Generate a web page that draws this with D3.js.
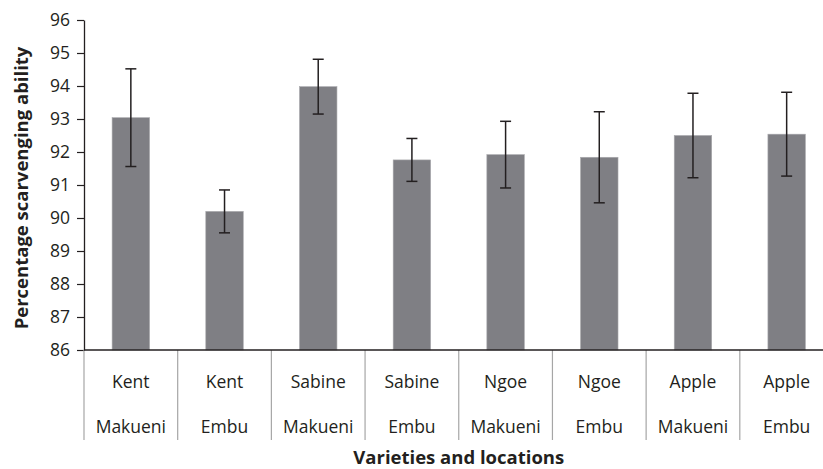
<!DOCTYPE html>
<html>
<head>
<meta charset="utf-8">
<script src="https://cdn.jsdelivr.net/npm/d3@7"></script>
<style>
  body { margin: 0; background: #fff; }
  svg { display: block; font-family: "Open Sans", sans-serif; }
</style>
</head>
<body>
<svg id="chart"></svg>
<script>
const varieties = ["Kent", "Kent", "Sabine", "Sabine", "Ngoe", "Ngoe", "Apple", "Apple"];
const locations = ["Makueni", "Embu", "Makueni", "Embu", "Makueni", "Embu", "Makueni", "Embu"];
const means = [93.04, 90.2, 93.98, 91.76, 91.92, 91.84, 92.5, 92.54];
const errors = [1.48, 0.65, 0.83, 0.65, 1.01, 1.38, 1.28, 1.27];
const yTicks = [86, 87, 88, 89, 90, 91, 92, 93, 94, 95, 96];

const width = 823, height = 469;
const mLeft = 84, mRight = 833.5, mTop = 20, mBottom = 350;
const ink = "#231f20";

const svg = d3.select("#chart")
    .attr("width", width)
    .attr("height", height);

const idx = d3.range(means.length);

const x = d3.scaleBand()
    .domain(idx)
    .range([mLeft, mRight])
    .paddingInner(0.6)
    .paddingOuter(0.3);

const y = d3.scaleLinear()
    .domain([86, 96])
    .range([mBottom, mTop]);

const step = x.step();

// bars
svg.append("g")
    .selectAll("rect")
    .data(idx)
    .join("rect")
    .attr("x", i => x(i))
    .attr("y", i => y(means[i]))
    .attr("width", x.bandwidth())
    .attr("height", i => y(86) - y(means[i]))
    .attr("fill", "#7f7f84")
    .attr("stroke", "#a9a9ad")
    .attr("stroke-width", 0.6);

// error bars
const eb = svg.append("g")
    .attr("stroke", ink)
    .attr("stroke-width", 1.5);

idx.forEach(i => {
    const cx = x(i) + x.bandwidth() / 2;
    const hi = y(means[i] + errors[i]);
    const lo = y(means[i] - errors[i]);
    eb.append("line").attr("x1", cx).attr("x2", cx).attr("y1", hi).attr("y2", lo);
    eb.append("line").attr("x1", cx - 5.5).attr("x2", cx + 5.5).attr("y1", hi).attr("y2", hi);
    eb.append("line").attr("x1", cx - 5.5).attr("x2", cx + 5.5).attr("y1", lo).attr("y2", lo);
});

// y axis
const yAxis = svg.append("g")
    .attr("transform", `translate(${mLeft},0)`)
    .call(d3.axisLeft(y).tickValues(yTicks).tickSize(7).tickPadding(7).tickSizeOuter(0));

yAxis.select(".domain").attr("stroke", ink).attr("stroke-width", 1.3);
yAxis.selectAll(".tick line").attr("stroke", ink).attr("stroke-width", 1.2);
yAxis.selectAll(".tick text")
    .attr("fill", ink)
    .style("font-size", "17.5px")
    .style("font-family", "'Open Sans', sans-serif");

// category separators
const seps = idx.map(i => x(i) - step * 0.3).concat([mRight]);
svg.append("g")
    .selectAll("line")
    .data(seps)
    .join("line")
    .attr("x1", d => d)
    .attr("x2", d => d)
    .attr("y1", mBottom)
    .attr("y2", 440)
    .attr("stroke", "#a6a6a6")
    .attr("stroke-width", 1.2);

// x axis line
svg.append("line")
    .attr("x1", mLeft)
    .attr("x2", width)
    .attr("y1", mBottom)
    .attr("y2", mBottom)
    .attr("stroke", ink)
    .attr("stroke-width", 1.3);

// category labels
const labels = svg.append("g")
    .attr("fill", ink)
    .attr("text-anchor", "middle")
    .style("font-size", "17.5px");

idx.forEach(i => {
    const cx = x(i) + x.bandwidth() / 2;
    labels.append("text").attr("x", cx).attr("y", 388).text(varieties[i]);
    labels.append("text").attr("x", cx).attr("y", 433).text(locations[i]);
});

// axis titles
svg.append("text")
    .attr("x", (mLeft + mRight) / 2)
    .attr("y", 464)
    .attr("text-anchor", "middle")
    .attr("fill", ink)
    .style("font-size", "18.5px")
    .style("font-weight", "bold")
    .text("Varieties and locations");

svg.append("text")
    .attr("transform", `translate(28,188) rotate(-90)`)
    .attr("text-anchor", "middle")
    .attr("fill", ink)
    .style("font-size", "18.5px")
    .style("font-weight", "bold")
    .text("Percentage scarvenging ability");
</script>
</body>
</html>
